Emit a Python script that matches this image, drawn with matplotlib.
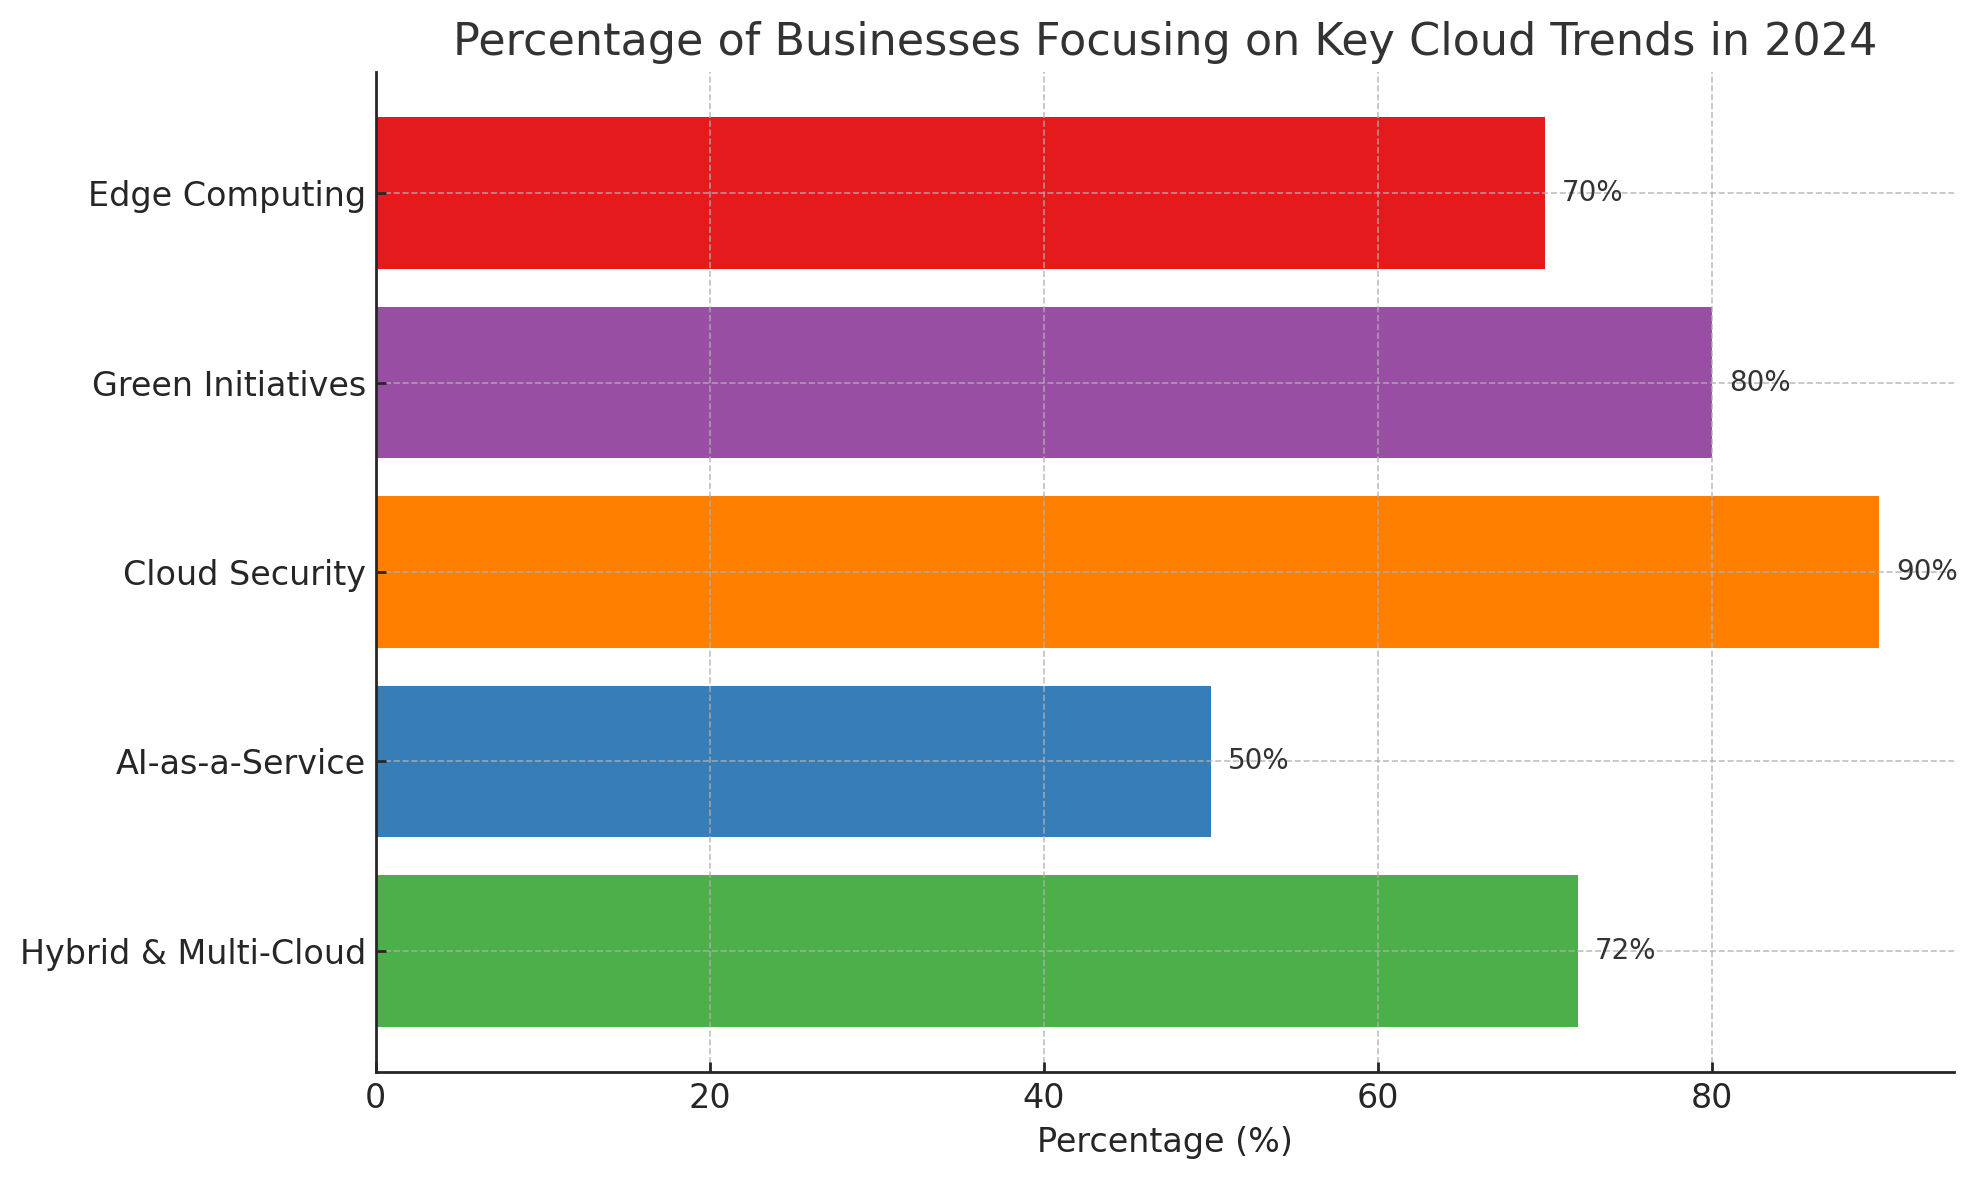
import matplotlib
matplotlib.use("Agg")
import matplotlib.pyplot as plt

categories = ["Hybrid & Multi-Cloud", "AI-as-a-Service", "Cloud Security",
              "Green Initiatives", "Edge Computing"]
values = [72, 50, 90, 80, 70]
colors = ["#4daf4a", "#377eb8", "#ff7f00", "#984ea3", "#e41a1c"]

text_color = "#262626"
plt.rcParams['font.family'] = ['DejaVu Sans']
plt.rcParams['text.color'] = text_color
plt.rcParams['axes.labelcolor'] = text_color
plt.rcParams['xtick.color'] = text_color
plt.rcParams['ytick.color'] = text_color

fig = plt.figure(figsize=(9.89, 5.9), dpi=200)
ax = fig.add_axes([0.190, 0.0915, 0.798, 0.8475])

bars = ax.barh(categories, values, color=colors, height=0.8)
for bar, v in zip(bars, values):
    ax.text(v + 1, bar.get_y() + bar.get_height() / 2, f"{v}%",
            va="center", ha="left", fontsize=10, color="#333333")

ax.set_title("Percentage of Businesses Focusing on Key Cloud Trends in 2024",
             fontsize=16, color="#333333")
ax.set_xlabel("Percentage (%)", fontsize=12)
ax.tick_params(axis="both", labelsize=12, direction="in", width=1.0)
ax.grid(True, linestyle="--", color="#b0b0b0", linewidth=0.6, alpha=0.8)
ax.set_axisbelow(False)
for line in ax.get_xgridlines() + ax.get_ygridlines():
    line.set_zorder(2.5)
ax.spines["top"].set_visible(False)
ax.spines["right"].set_visible(False)
for s in ("left", "bottom"):
    ax.spines[s].set_linewidth(1.0)
    ax.spines[s].set_color(text_color)
    ax.spines[s].set_zorder(3)

fig.savefig("out.png", dpi=200)
